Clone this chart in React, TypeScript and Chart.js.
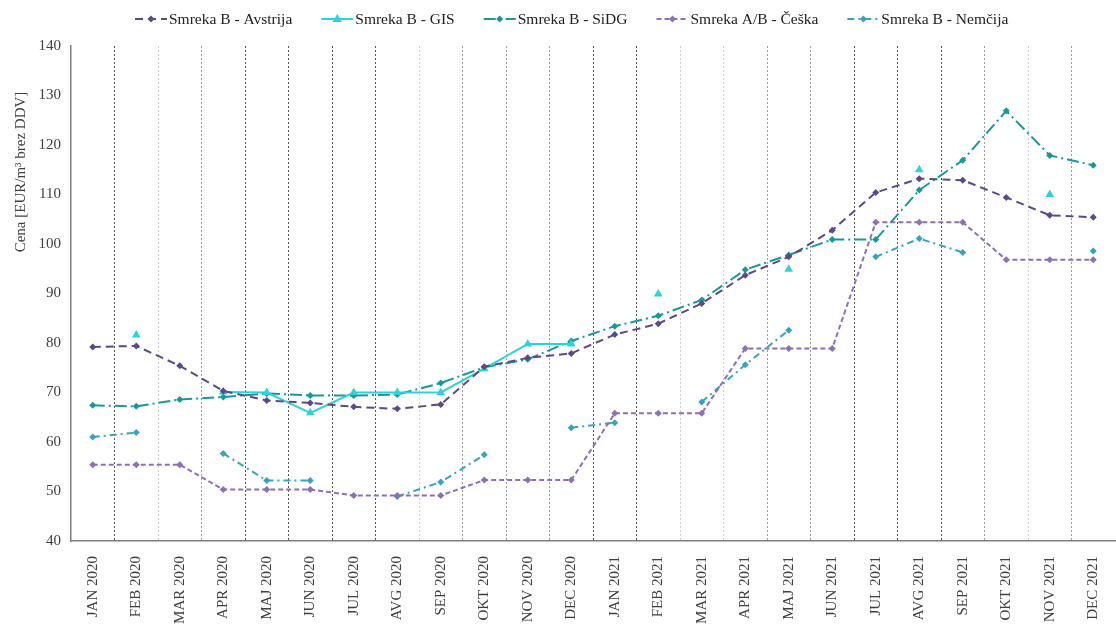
import React, { useEffect, useRef } from 'react';
import { Chart, registerables } from 'chart.js';

Chart.register(...registerables);

const FONT = "'Liberation Serif', 'Times New Roman', serif";

const categories = [
  'JAN 2020', 'FEB 2020', 'MAR 2020', 'APR 2020', 'MAJ 2020', 'JUN 2020',
  'JUL 2020', 'AVG 2020', 'SEP 2020', 'OKT 2020', 'NOV 2020', 'DEC 2020',
  'JAN 2021', 'FEB 2021', 'MAR 2021', 'APR 2021', 'MAJ 2021', 'JUN 2021',
  'JUL 2021', 'AVG 2021', 'SEP 2021', 'OKT 2021', 'NOV 2021', 'DEC 2021',
];

const seriesNames = [
  'Smreka B - Avstrija',
  'Smreka B - GIS',
  'Smreka B - SiDG',
  'Smreka A/B - Češka',
  'Smreka B - Nemčija',
];

const avstrija = [79.2, 79.4, 75.4, 70.3, 68.4, 67.9, 67.1, 66.7, 67.6, 75.2, 77.0, 77.9,
  81.7, 83.9, 88.0, 93.7, 97.4, 102.8, 110.4, 113.2, 112.9, 109.4, 105.8, 105.4];

const gis = [null, 81.6, null, 70.1, 70.0, 65.9, 70.0, 70.0, 70.0, 74.8, 79.8, 79.8,
  null, 89.9, null, null, 94.9, null, null, 115.0, null, null, 110.0, null];

const sidg = [67.4, 67.2, 68.6, 69.1, 69.8, 69.4, 69.4, 69.6, 71.9, 75.1, 76.7, 80.4,
  83.4, 85.5, 88.7, 94.8, 97.8, 100.9, 100.9, 110.9, 116.9, 126.9, 117.9, 115.9];

const ceska = [55.4, 55.4, 55.4, 50.4, 50.4, 50.4, 49.2, 49.2, 49.2, 52.3, 52.3, 52.3,
  65.8, 65.8, 65.8, 78.9, 78.9, 78.9, 104.4, 104.4, 104.4, 96.8, 96.8, 96.8];

const nemcija = [61.0, 61.9, null, 57.7, 52.2, 52.2, null, 49.0, 51.9, 57.4, null, 62.9,
  63.9, null, 68.1, 75.6, 82.6, null, 97.4, 101.1, 98.3, null, null, 98.6];

const yTitle = 'Cena [EUR/m³ brez DDV]';
const yMin = 40;
const yMax = 140;
const yStep = 10;

const colors = ['#5B4A86', '#2ED3D6', '#16999A', '#8C72B4', '#3AA3BC'];
const dashes = [[8, 5], [], [12, 4, 2, 4], [5, 3], [7, 4, 2, 4]];
const markers = ['rectRot', 'triangle', 'rectRot', 'rectRot', 'rectRot'];
const markerRadius = [3.5, 5, 3.5, 3.5, 3.5];

const DK = '#555555';
const MD = '#9a9a9a';
const LT = '#cfcfcf';
const gridColors = ['rgba(0,0,0,0)', DK, LT, MD, DK, DK, DK, DK, LT, MD, MD, MD, DK,
  DK, LT, LT, MD, MD, DK, DK, DK, MD, LT, MD, 'rgba(0,0,0,0)'];

function drawMarker(ctx: CanvasRenderingContext2D, style: string, cx: number, cy: number, r: number) {
  ctx.beginPath();
  if (style === 'triangle') {
    ctx.moveTo(cx, cy - r);
    ctx.lineTo(cx + r * 0.95, cy + r * 0.6);
    ctx.lineTo(cx - r * 0.95, cy + r * 0.6);
  } else {
    ctx.moveTo(cx, cy - r);
    ctx.lineTo(cx + r, cy);
    ctx.lineTo(cx, cy + r);
    ctx.lineTo(cx - r, cy);
  }
  ctx.closePath();
  ctx.fill();
}

// Legend and rotated y-axis title, drawn on the chart canvas.
const decorPlugin = {
  id: 'decor',
  afterDraw(chart: any) {
    const ctx: CanvasRenderingContext2D = chart.ctx;
    ctx.save();
    ctx.font = `15.5px ${FONT}`;
    ctx.textBaseline = 'middle';
    ctx.textAlign = 'left';
    const ly = 19;
    let x = 135;
    seriesNames.forEach((name, i) => {
      ctx.strokeStyle = colors[i];
      ctx.fillStyle = colors[i];
      ctx.lineWidth = 2;
      ctx.setLineDash(dashes[i]);
      ctx.beginPath();
      ctx.moveTo(x, ly);
      ctx.lineTo(x + 32, ly);
      ctx.stroke();
      ctx.setLineDash([]);
      drawMarker(ctx, markers[i], x + 16, ly, markerRadius[i]);
      ctx.fillStyle = '#222222';
      ctx.fillText(name, x + 34, ly + 0.5);
      x += 34 + ctx.measureText(name).width + 29;
    });
    ctx.restore();

    ctx.save();
    ctx.font = `15px ${FONT}`;
    ctx.fillStyle = '#404040';
    ctx.textAlign = 'center';
    ctx.textBaseline = 'middle';
    ctx.translate(21, 172);
    ctx.rotate(-Math.PI / 2);
    ctx.fillText(yTitle, 0, 0);
    ctx.restore();
  },
};

export default function App() {
  const ref = useRef<HTMLCanvasElement | null>(null);

  useEffect(() => {
    if (!ref.current) return;
    const seriesData = [avstrija, gis, sidg, ceska, nemcija];

    const chart = new Chart(ref.current, {
      type: 'line',
      data: {
        labels: categories,
        datasets: seriesNames.map((name, i) => ({
          label: name,
          data: seriesData[i],
          borderColor: colors[i],
          backgroundColor: colors[i],
          borderWidth: 2,
          borderDash: dashes[i],
          pointStyle: markers[i] as any,
          pointRadius: markerRadius[i],
          pointBorderWidth: 0,
          pointBackgroundColor: colors[i],
          pointBorderColor: colors[i],
          tension: 0,
          spanGaps: false,
          fill: false,
        })),
      },
      options: {
        animation: false,
        responsive: false,
        maintainAspectRatio: false,
        layout: { padding: { top: 0, left: 0, right: 0, bottom: 0 } },
        plugins: {
          tooltip: { enabled: false },
          legend: { display: false },
        },
        scales: {
          x: {
            type: 'category',
            offset: true,
            afterFit: (s: any) => {
              s.height = 91;
              s.paddingLeft = 0;
              s.paddingRight = 0;
            },
            grid: {
              display: true,
              offset: true,
              drawTicks: false,
              lineWidth: 1,
              color: (ctx: any) => gridColors[ctx.index] ?? 'rgba(0,0,0,0)',
            },
            border: { display: true, color: '#7f7f7f', width: 1.5, dash: [2, 2] },
            ticks: {
              autoSkip: false,
              minRotation: 90,
              maxRotation: 90,
              padding: 15,
              color: '#404040',
              font: { family: FONT, size: 15 },
            },
          },
          y: {
            min: yMin,
            max: yMax,
            afterFit: (s: any) => {
              s.width = 71;
              s.paddingTop = 46;
            },
            grid: { display: false, drawTicks: false },
            border: { display: true, color: '#7f7f7f', width: 1.5 },
            ticks: {
              stepSize: yStep,
              padding: 10,
              color: '#404040',
              font: { family: FONT, size: 15 },
            },
          },
        },
      },
      plugins: [decorPlugin],
    });
    return () => chart.destroy();
  }, []);

  return (
    <div style={{ position: 'absolute', left: 0, top: 0, width: 1116, height: 632, overflow: 'hidden', background: '#ffffff' }}>
      <canvas ref={ref} width={1120} height={632} style={{ display: 'block', width: 1120, height: 632 }} />
    </div>
  );
}
